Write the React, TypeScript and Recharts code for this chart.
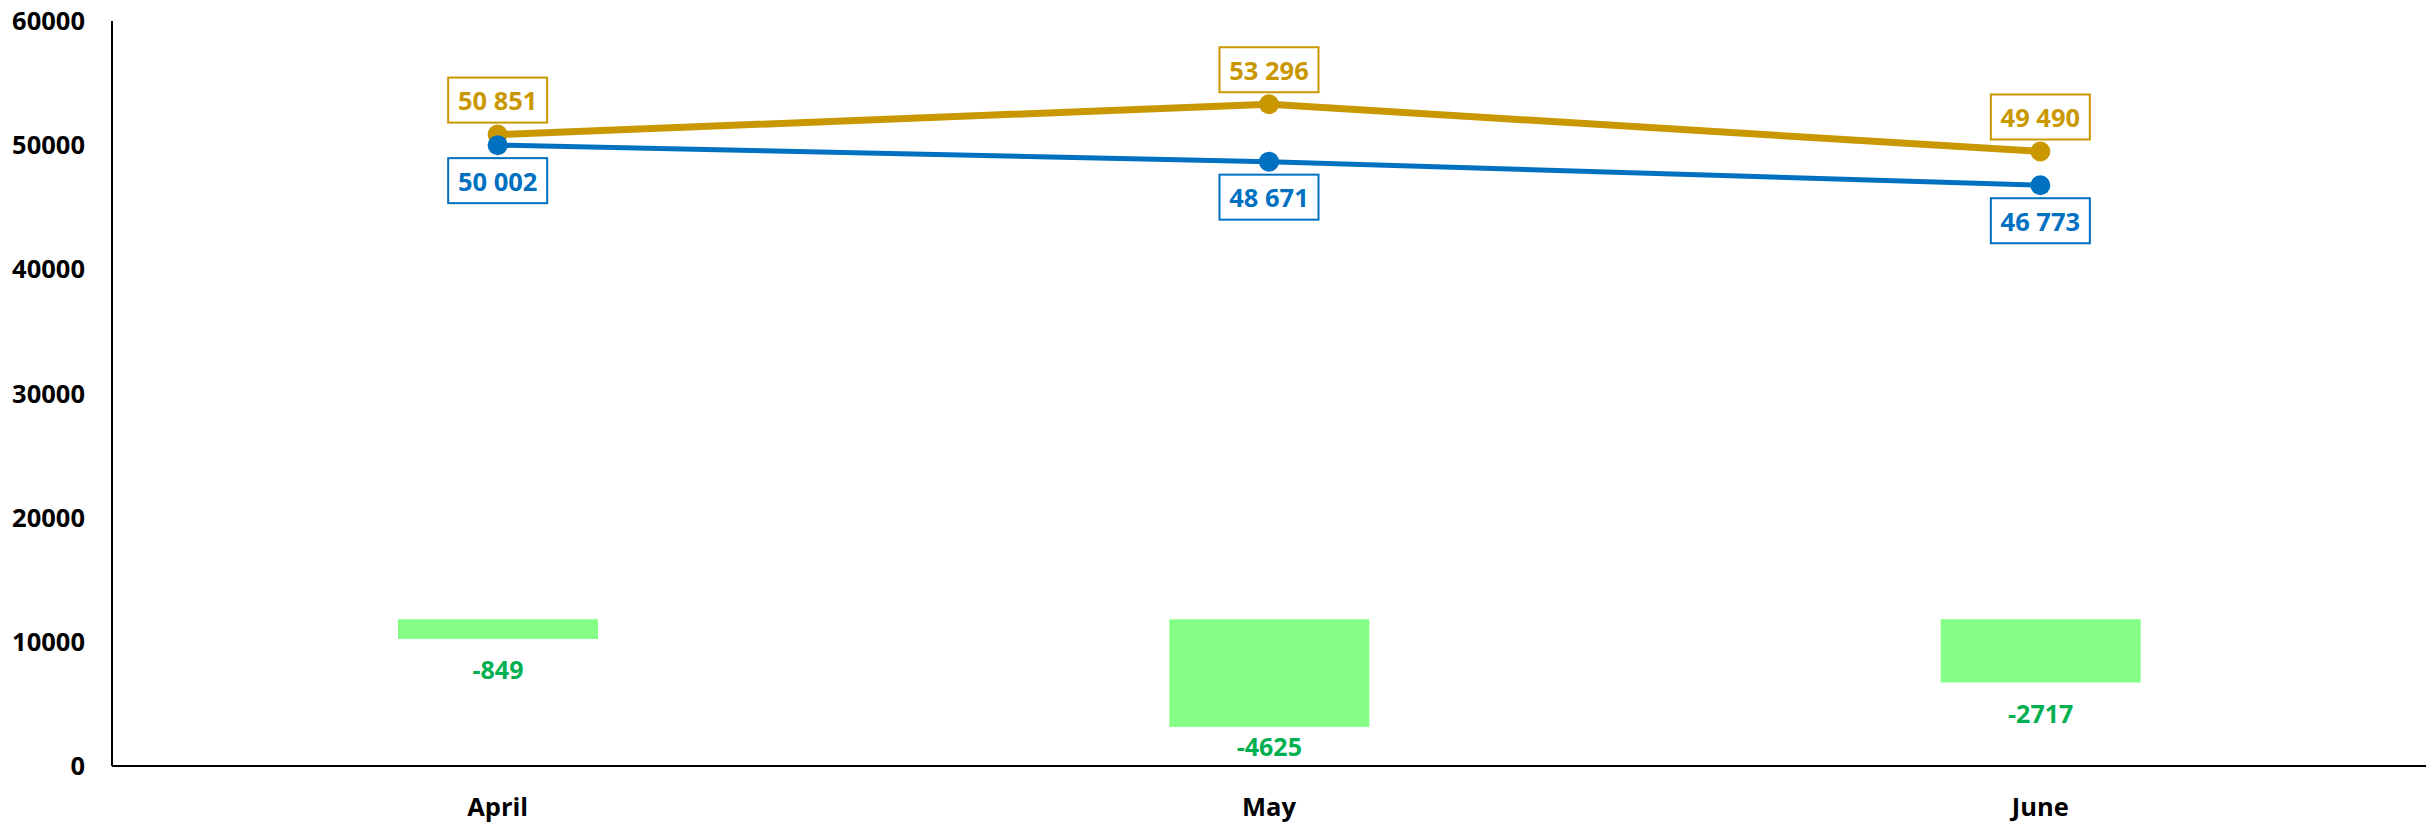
import { ComposedChart, Line, Bar, XAxis, YAxis, LabelList } from 'recharts'

// categories and series values
const months = ['April', 'May', 'June']
const planValues = [50851, 53296, 49490]
const factValues = [50002, 48671, 46773]
const diffValues = [-849, -4625, -2717]
const yTicks = [0, 10000, 20000, 30000, 40000, 50000, 60000]

const GOLD = '#C99800'
const BLUE = '#0070C0'
const FONT = '"Open Sans", "Noto Sans", sans-serif'

const data = months.map((m, i) => ({
  month: m,
  plan: planValues[i],
  fact: factValues[i],
  diff: diffValues[i],
}))

const fmt = (v: number) => String(v).replace(/\B(?=(\d{3})+(?!\d))/g, ' ')

// boxed data label for the lines, above or below the point
function boxLabel(color: string, above: boolean) {
  return (props: any) => {
    const { x, y, value } = props
    const w = 99
    const h = 45
    const cy = above ? y - 12 - h / 2 : y + 13 + h / 2
    return (
      <g>
        <rect x={x - w / 2} y={cy - h / 2} width={w} height={h} fill="#fff" stroke={color} strokeWidth={2} />
        <text x={x} y={cy} textAnchor="middle" dominantBaseline="central" fill={color}
          fontFamily={FONT} fontWeight={700} fontSize={25.5}>
          {fmt(value)}
        </text>
      </g>
    )
  }
}

const PLOT_BOTTOM = 766

function diffLabel(props: any) {
  const { x, y, width, height, value } = props
  const bottom = Math.max(y, y + height)
  const cy = Math.min(bottom + 30, PLOT_BOTTOM - 20)
  return (
    <text x={x + width / 2} y={cy} textAnchor="middle" dominantBaseline="central" fill="#00B050"
      fontFamily={FONT} fontWeight={700} fontSize={25}>
      {value}
    </text>
  )
}

export default function App() {
  return (
    <div style={{ position: 'absolute', left: 0, top: 0, background: '#fff' }}>
      <ComposedChart width={2432} height={822} data={data}
        margin={{ top: 21, right: 6, bottom: 0, left: 12 }}>
        <XAxis dataKey="month" height={56} tickLine={false} tickMargin={26}
          axisLine={{ stroke: '#000', strokeWidth: 2 }}
          tick={{ fill: '#000', fontSize: 25.5, fontWeight: 700, fontFamily: FONT }} />
        <YAxis yAxisId="left" domain={[0, 60000]} ticks={yTicks} width={100} tickLine={false}
          tickMargin={21} interval={0}
          axisLine={{ stroke: '#000', strokeWidth: 2 }}
          tick={{ fill: '#000', fontSize: 25.5, fontWeight: 700, fontFamily: FONT }} />
        <YAxis yAxisId="diff" orientation="right" hide domain={[-6300, 25700]} width={0} />
        <Bar yAxisId="diff" dataKey="diff" fill="#85FF85" barSize={200} isAnimationActive={false}>
          <LabelList dataKey="diff" content={diffLabel} />
        </Bar>
        <Line yAxisId="left" dataKey="plan" stroke={GOLD} strokeWidth={7}
          dot={{ r: 10, fill: GOLD, stroke: GOLD, strokeWidth: 0 }} activeDot={false}
          isAnimationActive={false}>
          <LabelList dataKey="plan" content={boxLabel(GOLD, true)} />
        </Line>
        <Line yAxisId="left" dataKey="fact" stroke={BLUE} strokeWidth={5}
          dot={{ r: 10, fill: BLUE, stroke: BLUE, strokeWidth: 0 }} activeDot={false}
          isAnimationActive={false}>
          <LabelList dataKey="fact" content={boxLabel(BLUE, false)} />
        </Line>
      </ComposedChart>
    </div>
  )
}
